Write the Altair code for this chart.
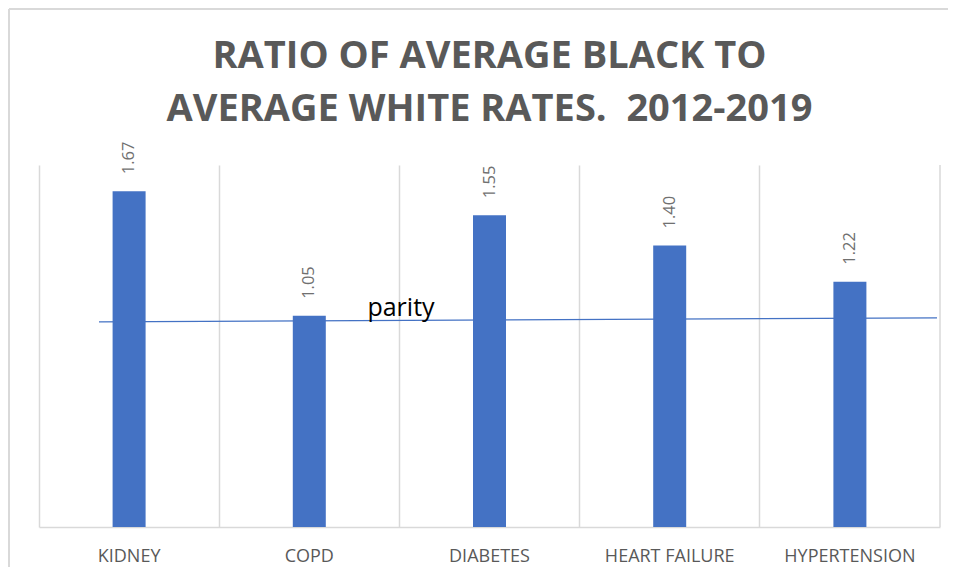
import altair as alt
import pandas as pd

categories = ["KIDNEY", "COPD", "DIABETES", "HEART FAILURE", "HYPERTENSION"]
ratios = [1.67, 1.05, 1.55, 1.40, 1.22]
label_texts = ["1.67", "1.05", "1.55", "1.40", "1.22"]
parity_start = [1.02]
parity_end = [1.04]
parity_text = ["parity"]
title_lines = ["RATIO OF AVERAGE BLACK TO", "AVERAGE WHITE RATES.\u00a0 2012-2019"]

df = pd.DataFrame({"category": categories, "ratio": ratios, "label": label_texts})
parity_df = pd.DataFrame({"start": parity_start, "end": parity_end, "text": parity_text})

W, H = 901, 362
GRID = "#d9d9d9"
BLUE = "#4472C4"
y_scale = alt.Scale(domain=[0, 1.8], nice=False, zero=True)

x_enc = alt.X(
    "category:N",
    sort=categories,
    scale=alt.Scale(paddingInner=0, paddingOuter=0),
    axis=alt.Axis(
        title=None, labelAngle=0, grid=True, bandPosition=0, ticks=False, tickSize=0,
        domainColor=GRID, domainWidth=1.5, gridColor=GRID, gridWidth=1.5,
        labelFont="Open Sans", labelFontSize=18, labelColor="#595959", labelPadding=20,
    ),
)
y_enc = alt.Y("ratio:Q", scale=y_scale, axis=None)

base = alt.Chart(df)
pbase = alt.Chart(parity_df)

right_edge = pbase.mark_rule(color=GRID, strokeWidth=1.5).encode(
    x=alt.value(W), y=alt.value(0), y2=alt.value(H)
)
frame_top = pbase.mark_rule(color=GRID, strokeWidth=2).encode(
    x=alt.value(-30), x2=alt.value(W + 60), y=alt.value(-156)
)
frame_left = pbase.mark_rule(color=GRID, strokeWidth=2).encode(
    x=alt.value(-30), y=alt.value(-156), y2=alt.value(H + 80)
)
parity_line = pbase.mark_rule(color=BLUE, strokeWidth=1.3).encode(
    x=alt.value(60), x2=alt.value(898),
    y=alt.Y("start:Q", scale=y_scale, axis=None), y2="end:Q",
)
bars = base.mark_bar(color=BLUE, size=33).encode(x=x_enc, y=y_enc)
labels = base.mark_text(
    angle=270, align="left", baseline="middle", dx=17,
    font="Open Sans", fontSize=16.5, color="#707070",
).encode(x=x_enc, y=y_enc, text="label:N")
parity_label = pbase.mark_text(
    align="center", baseline="alphabetic", dy=-6,
    font="Open Sans", fontSize=25, color="#000000",
).encode(x=alt.value(362), y=alt.Y("start:Q", scale=y_scale, axis=None), text="text:N")

chart = alt.layer(
    frame_top, frame_left, right_edge, parity_line, bars, labels, parity_label
).properties(
    width=W,
    height=H,
    background="white",
    title=alt.TitleParams(
        text=title_lines, anchor="middle", font="Open Sans", fontSize=38,
        fontWeight="bold", color="#595959", lineHeight=53, offset=-121,
    ),
    autosize=alt.AutoSizeParams(type="none"),
    padding={"left": 31, "top": 157, "right": 8, "bottom": 40},
).configure_view(strokeWidth=0, stroke="transparent")

chart.save("out.html", embed_options={"renderer": "svg", "actions": False})
